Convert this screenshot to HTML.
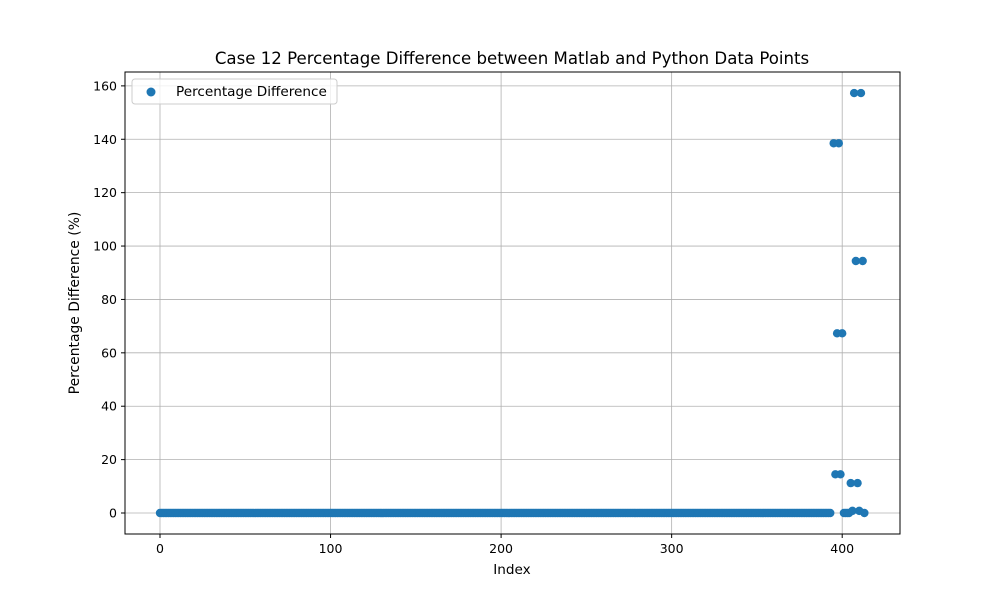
<!DOCTYPE html>
<html><head><meta charset="utf-8"><style>
body{margin:0;background:#fff;}
svg text{font-family:"DejaVu Sans","Liberation Sans",sans-serif;}
</style></head><body>
<svg id="chart" width="1000" height="600">
<rect width="1000" height="600" fill="#fff"/>
<g id="grid"></g>
<g id="points"></g>
<rect x="125" y="72" width="775" height="462" fill="none" stroke="#000" stroke-width="1"/>
<g id="ticks"></g>
<text x="512" y="64" text-anchor="middle" font-size="16.6">Case 12 Percentage Difference between Matlab and Python Data Points</text>
<text x="512" y="574" text-anchor="middle" font-size="13.6">Index</text>
<text x="0" y="0" transform="translate(79,303) rotate(-90)" text-anchor="middle" font-size="13.9">Percentage Difference (%)</text>
<g>
<rect x="132" y="79" width="205" height="25" rx="3" fill="#fff" fill-opacity="0.8" stroke="#ccc"/>
<circle cx="151" cy="92" r="4.5" fill="#1f77b4"/>
<text x="176" y="96" font-size="13.6">Percentage Difference</text>
</g>
</svg>
<script>
const xTicks=[0,100,200,300,400];
const yTicks=[0,20,40,60,80,100,120,140,160];
const outIdx=[395,396,397,398,399,400,405,406,407,408,409,410,411,412];
const outVal=[138.5,14.5,67.3,138.5,14.5,67.3,11.2,0.8,157.3,94.4,11.2,0.8,157.3,94.4];
const zeroIdx=[];
for(let i=0;i<=413;i++){ if(outIdx.indexOf(i)<0 && i!==394) zeroIdx.push(i); }
const X=v=>160+v*1.7055;
const Y=v=>513-v*2.6695;
const NS="http://www.w3.org/2000/svg";
const grid=document.getElementById('grid'),ticks=document.getElementById('ticks'),pts=document.getElementById('points');
function mk(tag,attrs,parent){const e=document.createElementNS(NS,tag);for(const k in attrs)e.setAttribute(k,attrs[k]);parent.appendChild(e);return e;}
xTicks.forEach(t=>{
 const x=X(t);
 const g=mk('line',{x1:x,x2:x,y1:72,y2:534,stroke:'#b0b0b0','stroke-width':0.8},grid);
 
 
 const tk=mk('line',{x1:x,x2:x,y1:534,y2:538,stroke:'#000'},ticks);
 
 
 const tx=mk('text',{x:x,y:553,'text-anchor':'middle','font-size':12.5},ticks);
 tx.textContent=t;
 
 
});
yTicks.forEach(t=>{
 const y=Y(t);
 const g=mk('line',{x1:125,x2:900,y1:y,y2:y,stroke:'#b0b0b0','stroke-width':0.8},grid);
 
 
 const tk=mk('line',{x1:121,x2:125,y1:y,y2:y,stroke:'#000'},ticks);
 
 
 const tx=mk('text',{x:117,y:y+4.5,'text-anchor':'end','font-size':12.5},ticks);
 tx.textContent=t;
 
 
});
function pt(i,v){
 const c=mk('circle',{cx:X(i),cy:Y(v),r:4.2,fill:'#1f77b4'},pts);
 
 
}
zeroIdx.forEach(i=>pt(i,0));
outIdx.forEach((i,k)=>pt(i,outVal[k]));
</script>
</body></html>
